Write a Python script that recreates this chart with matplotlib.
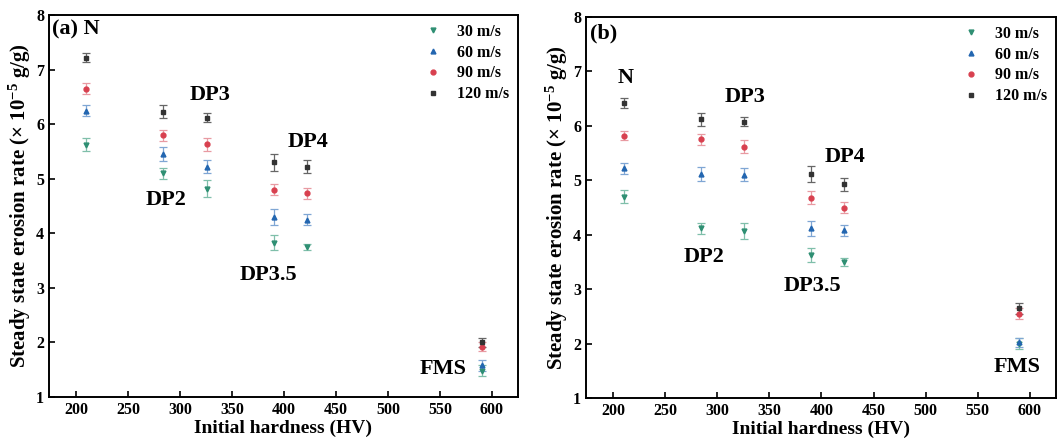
import numpy as np
import matplotlib.pyplot as plt
from matplotlib.lines import Line2D

plt.rcParams['font.family'] = ['Liberation Serif', 'DejaVu Serif']
plt.rcParams['font.weight'] = 'bold'
plt.rcParams['mathtext.fontset'] = 'custom'
plt.rcParams['mathtext.rm'] = 'Liberation Serif:bold'
plt.rcParams['mathtext.it'] = 'Liberation Serif:bold'

# hardness of each steel grade (HV)
hardness = [210, 284, 326, 390, 422, 590]
speeds = ['30 m/s', '60 m/s', '90 m/s', '120 m/s']

# steady state erosion rate (x1e-5 g/g), panel (a)
rate_a = {
    '30 m/s':  [5.62, 5.10, 4.82, 3.83, 3.75, 1.48],
    '60 m/s':  [6.25, 5.45, 5.22, 4.30, 4.25, 1.58],
    '90 m/s':  [6.65, 5.80, 5.63, 4.80, 4.73, 1.92],
    '120 m/s': [7.22, 6.23, 6.12, 5.30, 5.22, 2.00],
}
err_a = {
    '30 m/s':  [0.12, 0.10, 0.15, 0.14, 0.06, 0.10],
    '60 m/s':  [0.10, 0.13, 0.12, 0.14, 0.10, 0.10],
    '90 m/s':  [0.10, 0.10, 0.12, 0.10, 0.10, 0.08],
    '120 m/s': [0.08, 0.12, 0.08, 0.15, 0.12, 0.08],
}

# panel (b)
rate_b = {
    '30 m/s':  [4.70, 4.12, 4.07, 3.62, 3.50, 2.00],
    '60 m/s':  [5.22, 5.12, 5.10, 4.12, 4.08, 2.02],
    '90 m/s':  [5.82, 5.75, 5.62, 4.68, 4.50, 2.55],
    '120 m/s': [6.42, 6.12, 6.08, 5.12, 4.93, 2.65],
}
err_b = {
    '30 m/s':  [0.12, 0.10, 0.14, 0.13, 0.08, 0.10],
    '60 m/s':  [0.10, 0.13, 0.12, 0.14, 0.10, 0.08],
    '90 m/s':  [0.08, 0.10, 0.12, 0.12, 0.10, 0.10],
    '120 m/s': [0.10, 0.12, 0.08, 0.15, 0.12, 0.10],
}

styles = {
    '30 m/s':  dict(marker='v', color='#2f8f73', ecolor='#7fbfaa'),
    '60 m/s':  dict(marker='^', color='#2366b0', ecolor='#7fa6d4'),
    '90 m/s':  dict(marker='o', color='#d8404f', ecolor='#e89aa2'),
    '120 m/s': dict(marker='s', color='#333333', ecolor='#666666'),
}

labels_a = [('(a) N', 177, 7.73, 'left'), ('DP3', 329, 6.53, 'center'),
            ('DP2', 287, 4.61, 'center'), ('DP4', 423, 5.67, 'center'),
            ('DP3.5', 385, 3.24, 'center'), ('FMS', 553, 1.52, 'center')]
labels_b = [('(b)', 178, 7.7, 'left'), ('N', 212, 6.88, 'center'),
            ('DP3', 327, 6.53, 'center'), ('DP2', 287, 3.59, 'center'),
            ('DP4', 423, 5.43, 'center'), ('DP3.5', 391, 3.06, 'center'),
            ('FMS', 588, 1.57, 'center')]

fig = plt.figure(figsize=(10.57, 4.48), dpi=100)
ax1 = fig.add_axes([0.0464, 0.1138, 0.4436, 0.8527])
ax2 = fig.add_axes([0.5544, 0.1116, 0.4446, 0.8504])


def draw(ax, rates, errs, labels):
    handles = []
    for s in speeds:
        st = styles[s]
        ax.errorbar(hardness, rates[s], yerr=errs[s], fmt=st['marker'],
                    color=st['color'], ecolor=st['ecolor'], markersize=3.5,
                    elinewidth=0.9, capsize=3, capthick=0.9)
        handles.append(Line2D([], [], linestyle='none', marker=st['marker'],
                              color=st['color'], markersize=3.5, label=s))
    for txt, x, y, ha in labels:
        ax.text(x, y, txt, ha=ha, va='center', fontsize=16, fontweight='bold')
    ax.set_xlim(174, 625)
    ax.set_ylim(1, 8)
    ax.set_xticks(np.arange(200, 601, 50))
    ax.set_yticks(np.arange(1, 9, 1))
    ax.tick_params(direction='in', length=4, width=1.2, labelsize=11.5)
    for sp in ax.spines.values():
        sp.set_linewidth(1.4)
    ax.set_xlabel('Initial hardness (HV)', fontsize=14, fontweight='bold', labelpad=1)
    ax.set_ylabel('Steady state erosion rate (× 10$^{-5}$ g/g)', fontsize=15,
                  fontweight='bold', labelpad=2)
    ax.legend(handles=handles, loc='upper right', frameon=False, fontsize=11.5,
              handlelength=1.0, handletextpad=1.0, borderaxespad=0.15,
              labelspacing=0.3)


draw(ax1, rate_a, err_a, labels_a)
draw(ax2, rate_b, err_b, labels_b)

fig.savefig('out.png', dpi=100)
